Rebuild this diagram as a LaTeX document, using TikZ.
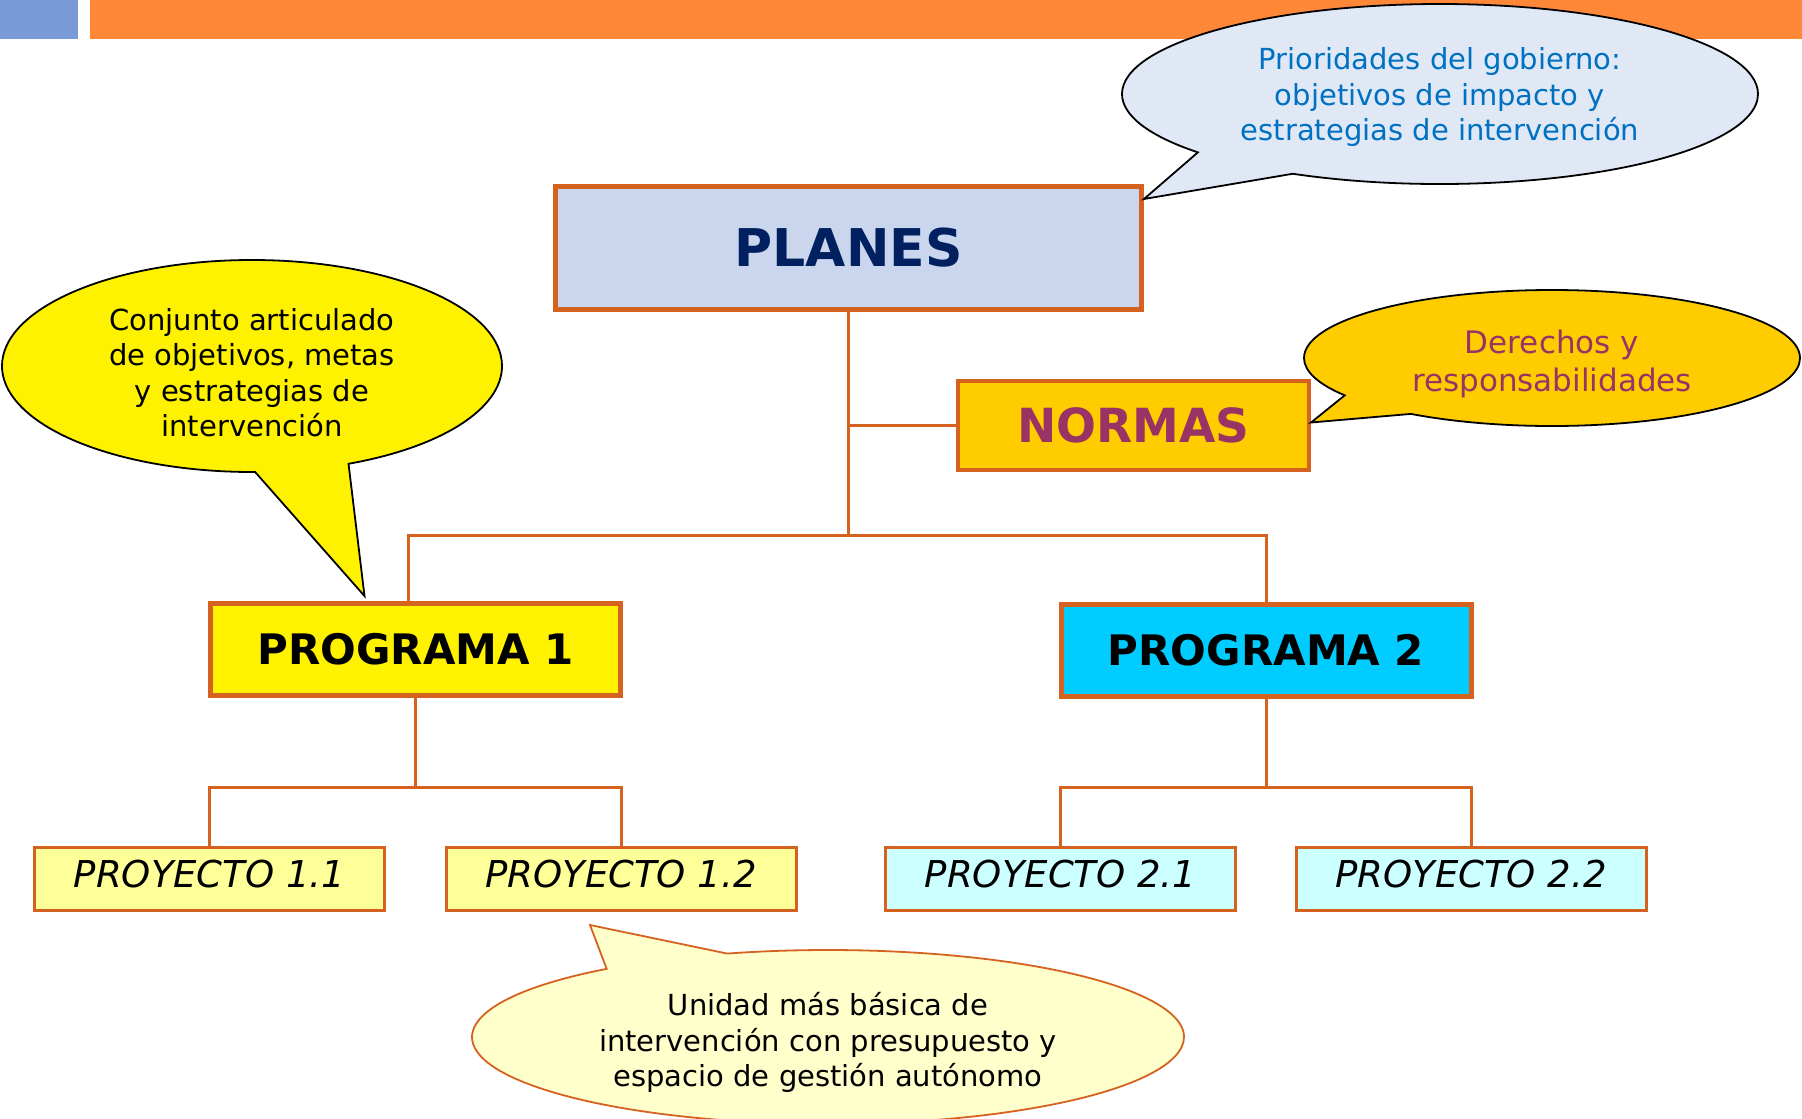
\documentclass[tikz,border=0pt]{standalone}
\usepackage{fontspec}
\setmainfont{DejaVu Sans}
\usetikzlibrary{shapes.callouts}

\definecolor{barorange}{RGB}{255,136,56}
\definecolor{barblue}{RGB}{120,154,214}
\definecolor{rim}{RGB}{214,98,31}
\definecolor{planesfill}{RGB}{201,214,238}
\definecolor{navy}{RGB}{0,32,96}
\definecolor{gold}{RGB}{255,204,0}
\definecolor{plum}{RGB}{153,51,102}
\definecolor{skyfill}{RGB}{224,232,246}
\definecolor{prioblue}{RGB}{0,112,192}
\definecolor{cyanfill}{RGB}{0,204,255}
\definecolor{paleyellow}{RGB}{255,255,153}
\definecolor{palecyan}{RGB}{204,255,255}
\definecolor{cream}{RGB}{255,255,204}

% pushes a bubble's text a little down
\newcommand\topgap[1][35pt]{\rule{0pt}{#1}}

\begin{document}
\begin{tikzpicture}[x=1pt, y=-1pt,
        box/.style={draw=rim, line width=5pt, inner sep=0pt, minimum width=410pt, minimum height=92pt,
            font=\bfseries\fontsize{42}{50}\selectfont},
        proj/.style={draw=rim, line width=3pt, inner sep=0pt, minimum width=350pt, minimum height=63pt,
            text depth=11pt, font=\itshape\fontsize{37}{44}\selectfont},
        link/.style={draw=rim, line width=3pt},
        bubble/.style={ellipse callout, draw=black, line width=1.8pt, inner sep=0pt, align=center,
            callout pointer arc=22, font=\fontsize{29}{35.5}\selectfont}]
        % \draw[help lines] (0,0) grid[step=100] (1802,1119);
        \fill[white] (0,0) rectangle (1802,1119);
        \useasboundingbox (0,0) rectangle (1802,1119);

        \fill[barblue] (0,0) rectangle (78,39);
        \fill[barorange] (90,0) rectangle (1802,39);

        \node[draw=rim, line width=5pt, fill=planesfill, text=navy, minimum width=586pt, minimum height=123pt,
            font=\bfseries\fontsize{52}{60}\selectfont] (planes) at (848.5, 248) {PLANES};
        \node[draw=rim, line width=4pt, fill=gold, text=plum, minimum width=351pt, minimum height=89pt,
            font=\bfseries\fontsize{47}{55}\selectfont] (normas) at (1133.5, 425.5) {NORMAS};

        \node[box, fill=yellow] (prog1) at (415.5, 649.5) {PROGRAMA 1};
        \node[box, fill=cyanfill] (prog2) at (1266, 650) {PROGRAMA 2};

        \node[proj, fill=paleyellow] (p11) at (209.5, 879) {PROYECTO 1.1};
        \node[proj, fill=paleyellow] (p12) at (621, 879) {PROYECTO 1.2};
        \node[proj, fill=palecyan] (p21) at (1060.5, 879) {PROYECTO 2.1};
        \node[proj, fill=palecyan] (p22) at (1471, 879) {PROYECTO 2.2};

        \coordinate (bus) at (0, 535);
        \draw[link] (planes.south) -- (planes.south |- bus);
        \draw[link] (planes.south |- normas.west) -- (normas.west);
        \draw[link] ([xshift=-7pt]prog1.north) |- (planes.south |- bus) -| (prog2.north);

        \draw[link] (prog1.south) -- ++(0,89) coordinate (fork1);
        \draw[link] (p11.north) |- (fork1) -| (p12.north);
        \draw[link] (prog2.south) -- ++(0,89) coordinate (fork2);
        \draw[link] (p21.north) |- (fork2) -| (p22.north);

        \node[bubble, fill=skyfill, text=prioblue, minimum width=636pt, minimum height=180pt,
            callout absolute pointer={([yshift=-15pt]planes.north east)}] (prio) at (1440, 94)
            {\topgap[29pt]Prioridades del gobierno:\\objetivos de impacto y\\estrategias de intervención};
        \node[bubble, fill=gold, text=plum, minimum width=496pt, minimum height=136pt,
            font=\fontsize{31}{38}\selectfont,
            callout absolute pointer={([yshift=3pt]normas.east)}] (derechos) at (1552, 358)
            {\topgap Derechos y\\responsabilidades};
        \node[bubble, fill=yellow, minimum width=500pt, minimum height=212pt,
            callout absolute pointer={([xshift=-51pt,yshift=5pt]prog1.north)}] (conjunto) at (252, 366)
            {\topgap Conjunto articulado\\de objetivos, metas\\y estrategias de\\intervención};
        \node[bubble, draw=rim, fill=cream, minimum width=712pt, minimum height=174pt,
            callout absolute pointer={([xshift=-31pt,yshift=-13pt]p12.south)}] (unidad) at (828, 1037)
            {\topgap Unidad más básica de\\intervención con presupuesto y\\espacio de gestión autónomo};
    \end{tikzpicture}
\end{document}
